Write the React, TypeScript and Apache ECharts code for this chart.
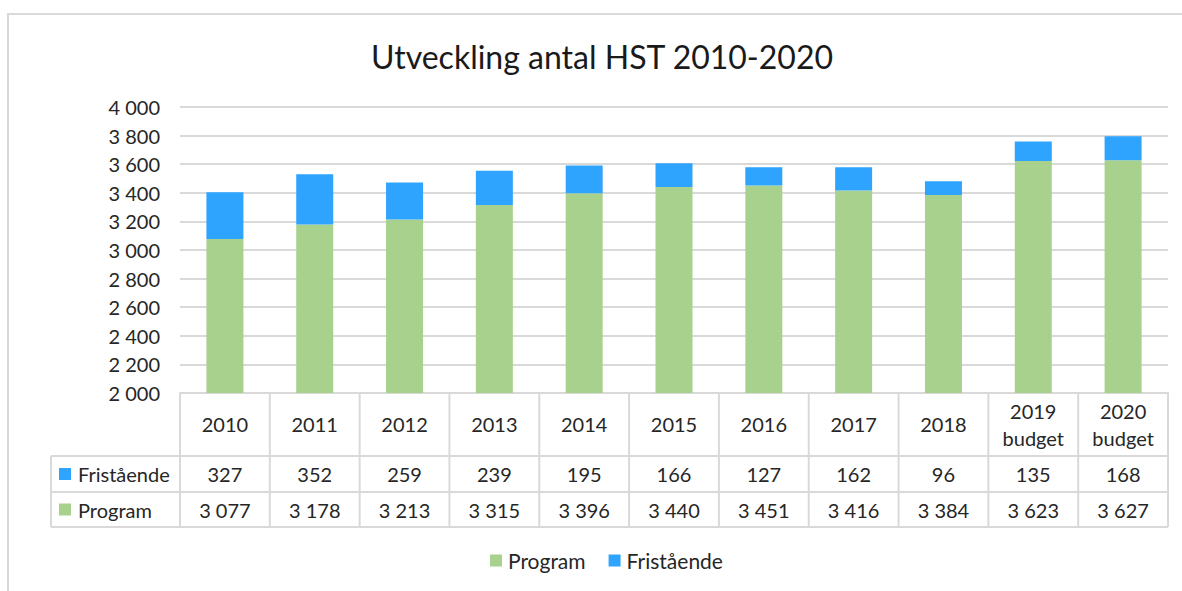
import React, { useEffect, useRef } from "react";
import * as echarts from "echarts";

const categories = ["2010", "2011", "2012", "2013", "2014", "2015", "2016", "2017", "2018", "2019\nbudget", "2020\nbudget"];
const program = [3077, 3178, 3213, 3315, 3396, 3440, 3451, 3416, 3384, 3623, 3627];
const fristaende = [327, 352, 259, 239, 195, 166, 127, 162, 96, 135, 168];
const yMin = 2000;
const yMax = 4000;
const yInterval = 200;

const GREEN = "#a9d18e";
const BLUE = "#2fa4ff";
const LINE = "#d9d9d9";
const TEXT = "#262626";
const FONT = "Lato";

const W = 1182;
const H = 591;
const GRID_L = 180;
const GRID_R = 1168;
const GRID_T = 107;
const GRID_B = 393;
const ROW1_T = 456;
const ROW2_T = 492;
const ROW2_B = 527;
const LABEL_L = 51;

const fmt = (n: number) => String(n).replace(/\B(?=(\d{3})+(?!\d))/g, " ");

export default function App() {
  const ref = useRef<HTMLDivElement>(null);
  useEffect(() => {
    document.body.style.margin = "0";
    const chart = echarts.init(ref.current!, null, { renderer: "svg" });
    const n = categories.length;
    const colW = (GRID_R - GRID_L) / n;
    const graphic: any[] = [];
    // outer border
    graphic.push({ type: "rect", shape: { x: 8, y: 14, width: W + 20, height: H + 20 }, style: { fill: "none", stroke: LINE, lineWidth: 2 }, silent: true });
    // title
    graphic.push({ type: "text", x: 602, y: 56, style: { text: "Utveckling antal HST 2010-2020", font: `32px ${FONT}`, fill: "#1a1a1a", textAlign: "center", textVerticalAlign: "middle" } });
    const line = (x1: number, y1: number, x2: number, y2: number) =>
      graphic.push({ type: "line", shape: { x1, y1, x2, y2 }, style: { stroke: LINE, lineWidth: 2 }, silent: true });
    // table vertical lines
    for (let i = 0; i <= n; i++) {
      const x = GRID_L + i * colW;
      line(x, GRID_B, x, ROW2_B);
    }
    line(LABEL_L, ROW1_T, LABEL_L, ROW2_B);
    line(LABEL_L, ROW1_T, GRID_R, ROW1_T);
    line(LABEL_L, ROW2_T, GRID_R, ROW2_T);
    line(LABEL_L, ROW2_B, GRID_R, ROW2_B);
    const rows = [
      { name: "Fristående", color: BLUE, values: fristaende, top: ROW1_T, bottom: ROW2_T },
      { name: "Program", color: GREEN, values: program, top: ROW2_T, bottom: ROW2_B },
    ];
    rows.forEach((r) => {
      const cy = (r.top + r.bottom) / 2;
      graphic.push({ type: "rect", shape: { x: 59, y: cy - 6, width: 12, height: 12 }, style: { fill: r.color } });
      graphic.push({ type: "text", x: 78, y: cy, style: { text: r.name, font: `20px ${FONT}`, fill: TEXT, textVerticalAlign: "middle" } });
      r.values.forEach((v, i) => {
        graphic.push({ type: "text", x: GRID_L + (i + 0.5) * colW, y: cy, style: { text: fmt(v), font: `20px ${FONT}`, fill: TEXT, textAlign: "center", textVerticalAlign: "middle" } });
      });
    });

    chart.setOption({
      animation: false,
      textStyle: { fontFamily: FONT },
      grid: { left: GRID_L, right: W - GRID_R, top: GRID_T, bottom: H - GRID_B, containLabel: false },
      legend: {
        data: ["Program", "Fristående"],
        bottom: 15,
        left: 485,
        icon: "rect",
        itemWidth: 12,
        itemHeight: 12,
        itemGap: 23,
        textStyle: { fontSize: 21, color: TEXT, fontFamily: FONT, padding: [0, 0, 0, 1] },
      },
      xAxis: {
        type: "category",
        data: categories,
        axisLine: { show: true, lineStyle: { color: LINE, width: 2 } },
        axisTick: { show: false },
        axisLabel: { fontSize: 20, color: TEXT, fontFamily: FONT, margin: 31, verticalAlign: "middle", lineHeight: 27, interval: 0 },
      },
      yAxis: {
        type: "value",
        min: yMin,
        max: yMax,
        interval: yInterval,
        axisLine: { show: false },
        axisTick: { show: false },
        splitLine: { lineStyle: { color: LINE, width: 2 } },
        axisLabel: { fontSize: 20, color: TEXT, fontFamily: FONT, margin: 20, formatter: (v: number) => fmt(v) },
      },
      series: [
        { name: "Program", type: "bar", stack: "total", data: program, barWidth: 37, itemStyle: { color: GREEN } },
        { name: "Fristående", type: "bar", stack: "total", data: fristaende, barWidth: 37, itemStyle: { color: BLUE } },
      ],
      graphic,
    });
    return () => chart.dispose();
  }, []);
  return <div ref={ref} style={{ width: W, height: H }} />;
}
